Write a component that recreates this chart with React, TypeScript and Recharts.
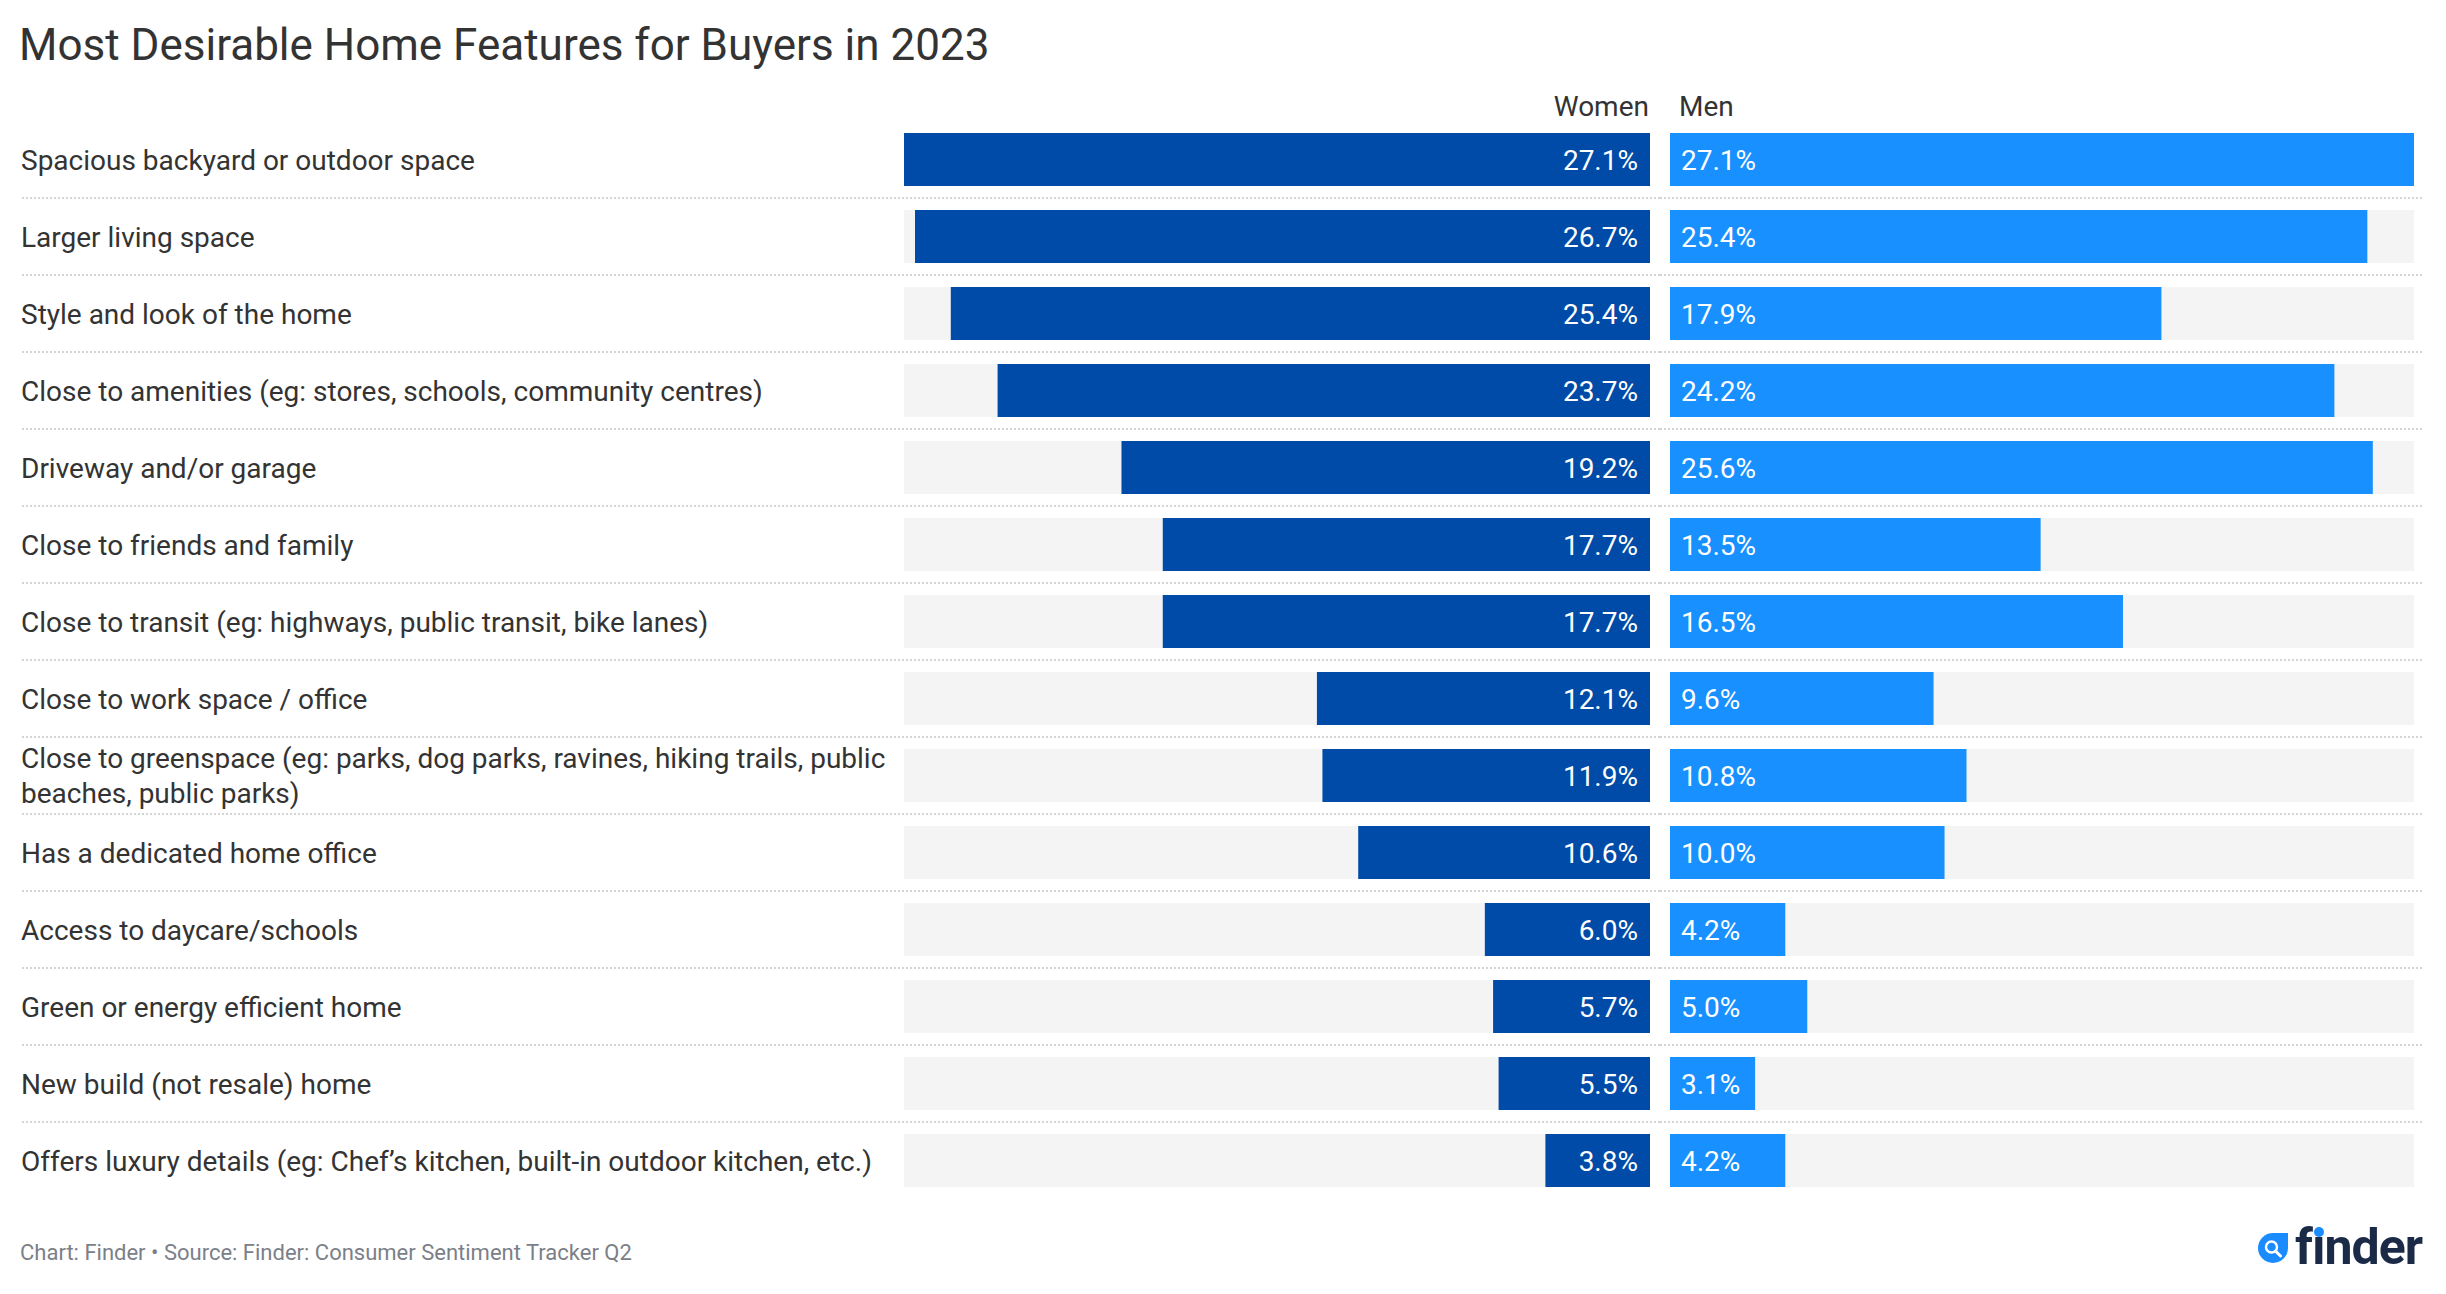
import { BarChart, Bar, XAxis, YAxis, LabelList } from 'recharts'

const features = [
  'Spacious backyard or outdoor space',
  'Larger living space',
  'Style and look of the home',
  'Close to amenities (eg: stores, schools, community centres)',
  'Driveway and/or garage',
  'Close to friends and family',
  'Close to transit (eg: highways, public transit, bike lanes)',
  'Close to work space / office',
  'Close to greenspace (eg: parks, dog parks, ravines, hiking trails, public beaches, public parks)',
  'Has a dedicated home office',
  'Access to daycare/schools',
  'Green or energy efficient home',
  'New build (not resale) home',
  'Offers luxury details (eg: Chef’s kitchen, built-in outdoor kitchen, etc.)',
]
const women = [27.1, 26.7, 25.4, 23.7, 19.2, 17.7, 17.7, 12.1, 11.9, 10.6, 6.0, 5.7, 5.5, 3.8]
const men = [27.1, 25.4, 17.9, 24.2, 25.6, 13.5, 16.5, 9.6, 10.8, 10.0, 4.2, 5.0, 3.1, 4.2]

const data = features.map((feature, i) => ({ feature, women: women[i], men: men[i] }))

const FONT = 'Roboto, "Open Sans", sans-serif'
const MAX = 27.1
const CHART_H = 1124
const AXIS_H = 41
const BOTTOM = 5
const ROW = (CHART_H - AXIS_H - BOTTOM) / features.length
const LEFT_W = 1660
const RIGHT_W = 786
const LABEL_SIZE = 28
const LINE_H = 35

// measure with canvas so long labels break like the original
let measureCtx: CanvasRenderingContext2D | null = null
function wrapLabel(text: string, maxWidth: number): string[] {
  if (!measureCtx) measureCtx = document.createElement('canvas').getContext('2d')
  if (!measureCtx) return [text]
  measureCtx.font = `${LABEL_SIZE}px Roboto`
  const lines: string[] = []
  let line = ''
  for (const word of text.split(' ')) {
    const test = line ? line + ' ' + word : word
    if (line && measureCtx.measureText(test).width > maxWidth) {
      lines.push(line)
      line = word
    } else {
      line = test
    }
  }
  if (line) lines.push(line)
  return lines
}

function FeatureTick(props: any) {
  const { y, payload } = props
  const idx = payload.index ?? props.index
  const lines = wrapLabel(String(payload.value), 885)
  const firstBase = y + 10 - ((lines.length - 1) * LINE_H) / 2
  return (
    <g>
      <text x={21} y={firstBase} fill="#333333" fontSize={LABEL_SIZE} fontFamily={FONT}>
        {lines.map((l, i) => (
          <tspan key={i} x={21} dy={i === 0 ? 0 : LINE_H}>
            {l}
          </tspan>
        ))}
      </text>
      {idx < features.length - 1 && (
        <line x1={22} x2={LEFT_W} y1={y + ROW / 2} y2={y + ROW / 2} stroke="#d4d4d4" strokeWidth={2} strokeDasharray="2 2" />
      )}
    </g>
  )
}

function SeparatorTick(props: any) {
  const { y, payload } = props
  const idx = payload.index ?? props.index
  if (idx >= features.length - 1) return <g />
  return <line x1={0} x2={764} y1={y + ROW / 2} y2={y + ROW / 2} stroke="#d4d4d4" strokeWidth={2} strokeDasharray="2 2" />
}

function WomenValue(props: any) {
  const x = Number(props.x)
  const w = Number(props.width)
  const y = Number(props.y)
  const h = Number(props.height)
  const right = Math.max(x, x + w)
  return (
    <text x={right - 12} y={y + h / 2 + 10} textAnchor="end" fill="#ffffff" fontSize={28} fontFamily={FONT}>
      {Number(props.value).toFixed(1)}%
    </text>
  )
}

function MenValue(props: any) {
  const x = Number(props.x)
  const w = Number(props.width)
  const y = Number(props.y)
  const h = Number(props.height)
  const left = Math.min(x, x + w)
  return (
    <text x={left + 11} y={y + h / 2 + 10} textAnchor="start" fill="#ffffff" fontSize={28} fontFamily={FONT}>
      {Number(props.value).toFixed(1)}%
    </text>
  )
}

function WomenHeader(props: any) {
  const vb = props.viewBox
  return (
    <text x={vb.x + vb.width - 1} y={vb.y + vb.height - 5} textAnchor="end" fill="#333333" fontSize={28} fontFamily={FONT}>
      Women
    </text>
  )
}

function MenHeader(props: any) {
  const vb = props.viewBox
  return (
    <text x={vb.x + 9} y={vb.y + vb.height - 5} textAnchor="start" fill="#333333" fontSize={28} fontFamily={FONT}>
      Men
    </text>
  )
}

export default function App() {
  return (
    <div
      style={{
        position: 'absolute',
        left: 0,
        top: 0,
        width: 2446,
        height: 1294,
        background: '#ffffff',
        fontFamily: FONT,
        overflow: 'hidden',
      }}
    >
      <div style={{ position: 'absolute', left: 19, top: 23, fontSize: 44, lineHeight: '44px', color: '#333333', whiteSpace: 'nowrap' }}>
        Most Desirable Home Features for Buyers in 2023
      </div>

      <div style={{ position: 'absolute', left: 0, top: 80, display: 'flex' }}>
        {/* labels + women side */}
        <BarChart
          width={LEFT_W}
          height={CHART_H}
          data={data}
          layout="vertical"
          margin={{ top: 0, right: 10, bottom: BOTTOM, left: 0 }}
        >
          <XAxis
            type="number"
            orientation="top"
            domain={[0, MAX]}
            allowDataOverflow
            reversed
            height={AXIS_H}
            tick={false}
            tickLine={false}
            axisLine={false}
            label={WomenHeader}
          />
          <YAxis
            type="category"
            dataKey="feature"
            width={904}
            interval={0}
            tickLine={false}
            axisLine={false}
            tick={FeatureTick}
          />
          <Bar dataKey="women" fill="#004ba8" barSize={53} background={{ fill: '#f4f4f4' }} isAnimationActive={false}>
            <LabelList dataKey="women" content={WomenValue} />
          </Bar>
        </BarChart>

        {/* men side */}
        <BarChart
          width={RIGHT_W}
          height={CHART_H}
          data={data}
          layout="vertical"
          margin={{ top: 0, right: 32, bottom: BOTTOM, left: 0 }}
        >
          <XAxis
            type="number"
            orientation="top"
            domain={[0, MAX]}
            allowDataOverflow
            height={AXIS_H}
            tick={false}
            tickLine={false}
            axisLine={false}
            label={MenHeader}
          />
          <YAxis
            type="category"
            dataKey="feature"
            width={10}
            interval={0}
            tickLine={false}
            axisLine={false}
            tick={SeparatorTick}
          />
          <Bar dataKey="men" fill="#1890ff" barSize={53} background={{ fill: '#f4f4f4' }} isAnimationActive={false}>
            <LabelList dataKey="men" content={MenValue} />
          </Bar>
        </BarChart>
      </div>

      <div style={{ position: 'absolute', left: 20, top: 1242, fontSize: 22, lineHeight: '22px', color: '#7b8088', whiteSpace: 'nowrap' }}>
        Chart: Finder • Source: Finder: Consumer Sentiment Tracker Q2
      </div>

      {/* finder logo */}
      <svg style={{ position: 'absolute', left: 2236, top: 1210, overflow: 'visible' }} width={208} height={72}>
        <g transform="translate(14,10)">
          <path d="M23 13 H38 V28 A15 15 0 1 1 23 13 Z" fill="#1a8cff" />
          <circle cx={21.5} cy={27} r={5.5} fill="none" stroke="#ffffff" strokeWidth={2.5} />
          <line x1={25.5} y1={31} x2={30.5} y2={36} stroke="#ffffff" strokeWidth={3} strokeLinecap="round" />
          <text x={45} y={44} fontSize={50} fontWeight={700} fill="#1b2a47" fontFamily={FONT} letterSpacing={-1}>
            fınder
          </text>
          <circle cx={69} cy={12} r={5} fill="#1a8cff" />
        </g>
      </svg>
    </div>
  )
}
